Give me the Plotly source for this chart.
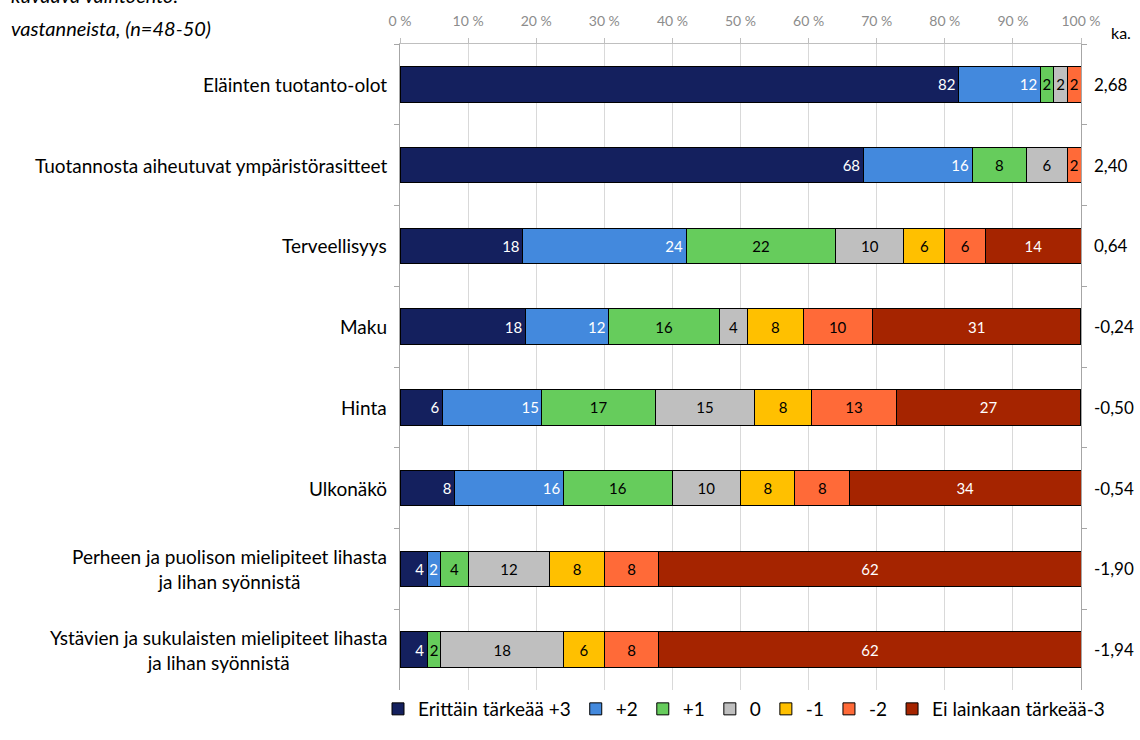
import math
import plotly.graph_objects as go

# Survey items (top to bottom)
categories = [
    "Eläinten tuotanto-olot",
    "Tuotannosta aiheutuvat ympäristörasitteet",
    "Terveellisyys",
    "Maku",
    "Hinta",
    "Ulkonäkö",
    "Perheen ja puolison mielipiteet lihasta ja lihan syönnistä",
    "Ystävien ja sukulaisten mielipiteet lihasta ja lihan syönnistä",
]
row_labels = [
    "Eläinten tuotanto-olot",
    "Tuotannosta aiheutuvat ympäristörasitteet",
    "Terveellisyys",
    "Maku",
    "Hinta",
    "Ulkonäkö",
    "Perheen ja puolison mielipiteet lihasta<br>ja lihan syönnistä",
    "Ystävien ja sukulaisten mielipiteet lihasta<br>ja lihan syönnistä",
]

# Share of respondents (%) per answer option
plus3 = [82, 68, 18, 18.37, 6.25, 8, 4, 4]
plus2 = [12, 16, 24, 12.24, 14.58, 16, 2, 0]
plus1 = [2, 8, 22, 16.33, 16.67, 16, 4, 2]
zero = [2, 6, 10, 4.08, 14.58, 10, 12, 18]
minus1 = [0, 0, 6, 8.16, 8.33, 8, 8, 6]
minus2 = [2, 2, 6, 10.20, 12.5, 8, 8, 8]
minus3 = [0, 0, 14, 30.61, 27.08, 34, 62, 62]

# Mean score (ka.) per item
means = [2.68, 2.40, 0.64, -0.24, -0.50, -0.54, -1.90, -1.94]

series_names = ["Erittäin tärkeää +3", "+2", "+1", "0", "-1", "-2", "Ei lainkaan tärkeää-3"]
x_ticks = [0, 10, 20, 30, 40, 50, 60, 70, 80, 90, 100]

FONT = "Lato, Liberation Sans, sans-serif"

series = [
    (series_names[0], plus3, "#14205E", "white", "end"),
    (series_names[1], plus2, "#4389DD", "white", "end"),
    (series_names[2], plus1, "#66CC5C", "black", "middle"),
    (series_names[3], zero, "#BFBFBF", "black", "middle"),
    (series_names[4], minus1, "#FFC000", "black", "middle"),
    (series_names[5], minus2, "#FF6A38", "black", "middle"),
    (series_names[6], minus3, "#A52400", "white", "middle"),
]


def seg_label(v):
    return str(int(math.floor(v + 0.5))) if v > 0 else ""


fig = go.Figure()
for name, vals, color, tcolor, anchor in series:
    fig.add_trace(go.Bar(
        name=name,
        y=categories,
        x=vals,
        orientation="h",
        marker=dict(color=color, line=dict(color="#000000", width=1)),
        text=[seg_label(v) for v in vals],
        texttemplate="%{text}",
        textposition="inside",
        insidetextanchor=anchor,
        textangle=0,
        textfont=dict(family=FONT, size=15, color=tcolor),
        hoverinfo="skip",
    ))

annotations = []
for cat, lab in zip(categories, row_labels):
    annotations.append(dict(
        x=0, xref="paper", y=cat, yref="y",
        text=lab, showarrow=False, xanchor="right", yanchor="middle",
        align="center", xshift=-11,
        font=dict(family=FONT, size=19, color="#000000"),
    ))
for cat, m in zip(categories, means):
    annotations.append(dict(
        x=1, xref="paper", y=cat, yref="y",
        text=f"{m:.2f}".replace(".", ","), showarrow=False,
        xanchor="left", yanchor="middle", xshift=11,
        font=dict(family=FONT, size=17, color="#000000"),
    ))
annotations.append(dict(
    x=1, xref="paper", y=1 + 12 / 653, yref="paper",
    text="ka.", showarrow=False, xanchor="left", yanchor="middle", xshift=28,
    font=dict(family=FONT, size=16, color="#000000"),
))
annotations.append(dict(
    x=0, xref="paper", y=1 + 50 / 653, yref="paper",
    text="<i>kuvaava vaihtoehto.</i>", showarrow=False, xanchor="left", yanchor="middle",
    xshift=-391, font=dict(family=FONT, size=20, color="#000000"),
))
annotations.append(dict(
    x=0, xref="paper", y=1 + 16 / 653, yref="paper",
    text="<i>vastanneista, (n=48-50)</i>", showarrow=False, xanchor="left", yanchor="middle",
    xshift=-391, font=dict(family=FONT, size=20, color="#000000"),
))

fig.update_layout(
    width=1140, height=740, autosize=False,
    margin=dict(l=400, r=59, t=42, b=45),
    paper_bgcolor="white", plot_bgcolor="white",
    barmode="stack", bargap=0.56,
    font=dict(family=FONT, size=14, color="#000000"),
    uniformtext=dict(minsize=15, mode="show"),
    showlegend=True,
    legend=dict(
        orientation="h", x=-22 / 681, xanchor="left",
        y=0, yanchor="top",
        font=dict(family=FONT, size=19, color="#000000"),
        traceorder="normal", itemwidth=30,
    ),
    annotations=annotations,
    xaxis=dict(
        side="top", range=[0, 100], tickvals=x_ticks,
        ticktext=[f"{v} %" for v in x_ticks],
        tickfont=dict(family=FONT, size=14, color="#8C8C8C"),
        showgrid=True, gridcolor="#D9D9D9", gridwidth=1,
        showline=True, linecolor="#BFBFBF", linewidth=1,
        ticks="outside", ticklen=5, tickcolor="#BFBFBF",
        ticklabelstandoff=6, zeroline=False, fixedrange=True,
    ),
    yaxis=dict(
        type="category", categoryorder="array", categoryarray=categories,
        autorange="reversed", showticklabels=False,
        showline=True, linecolor="#A6A6A6", linewidth=1, mirror="ticks",
        ticks="outside", ticklen=5, tickcolor="#A6A6A6", tickson="boundaries",
        showgrid=False, zeroline=False, fixedrange=True,
    ),
)

fig.write_html("out.html")
